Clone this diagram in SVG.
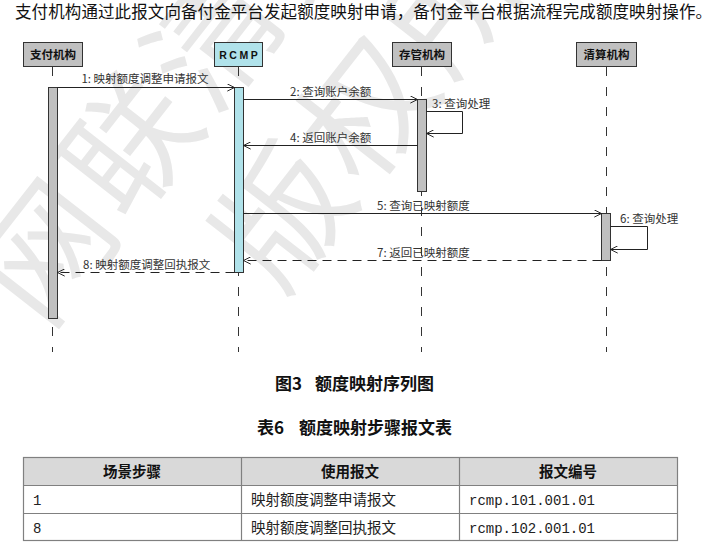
<svg xmlns="http://www.w3.org/2000/svg" width="723" height="550" viewBox="0 0 723 550">
  <style>
    .cjk { font-family: "Noto Sans CJK SC", "Liberation Sans", sans-serif; }
    .wm { font-family: "Noto Sans CJK SC", sans-serif; font-size: 130px; font-weight: 400; fill: #e8e8e8; letter-spacing: 6px; }
    .head { fill: #c0c0c0; stroke: #333; stroke-width: 1; }
    .head-cyan { fill: #b0e2ea; stroke: #333; stroke-width: 1; }
    .head-text { font-family: "Noto Sans CJK SC", sans-serif; font-size: 11.5px; font-weight: 700; fill: #111; text-anchor: middle; }
    .rcmp-text { font-family: "Liberation Sans", Arial, sans-serif; font-size: 10.5px; font-weight: 700; fill: #111; text-anchor: middle; letter-spacing: 2.6px; }
    .life { stroke: #333; stroke-width: 1; stroke-dasharray: 9 11; fill: none; }
    .act { fill: #c0c0c0; stroke: #333; stroke-width: 1; }
    .act-cyan { fill: #b0e2ea; stroke: #333; stroke-width: 1; }
    .msg { stroke: #222; stroke-width: 1; fill: none; marker-end: url(#open); }
    .ret { stroke: #222; stroke-width: 1; fill: none; stroke-dasharray: 9 6; marker-end: url(#open); }
    .lbl { font-family: "Noto Sans CJK SC", "Liberation Sans", sans-serif; font-size: 11.5px; fill: #333; }
    .cap { font-family: "Noto Sans CJK SC", sans-serif; font-size: 17px; font-weight: 700; fill: #111; }
    .grid { stroke: #808080; stroke-width: 1.2; fill: none; }
    .th { font-family: "Noto Sans CJK SC", sans-serif; font-size: 14.5px; font-weight: 700; fill: #111; text-anchor: middle; }
    .td { font-family: "Noto Sans CJK SC", sans-serif; font-size: 14.5px; fill: #222; }
    .mono { font-family: "Liberation Mono", "Courier New", monospace; font-size: 14px; fill: #222; }
  </style>
  <defs>
    <marker id="open" viewBox="0 0 10 10" refX="9" refY="5" markerWidth="8" markerHeight="8" markerUnits="userSpaceOnUse" orient="auto">
      <path d="M0,0.5 L9,5 L0,9.5" fill="none" stroke="#222" stroke-width="1.2"/>
    </marker>
  </defs>

  <rect width="723" height="550" fill="#ffffff"/>

  <!-- background watermark -->
  <g id="watermark">
    <text class="wm" transform="translate(44,332) rotate(-52)">网联清算</text>
    <text class="wm" transform="translate(281,297) rotate(-52)">版权所有</text>
  </g>

  <!-- intro sentence -->
  <text class="cjk" x="15" y="18" font-size="16.5" fill="#111" textLength="697" lengthAdjust="spacing">支付机构通过此报文向备付金平台发起额度映射申请，备付金平台根据流程完成额度映射操作。</text>

  <!-- lifelines -->
  <g id="lifelines">
    <line class="life" x1="52.5" y1="67" x2="52.5" y2="352"/>
    <line class="life" x1="238.5" y1="67" x2="238.5" y2="352"/>
    <line class="life" x1="421.5" y1="67" x2="421.5" y2="352"/>
    <line class="life" x1="606.5" y1="67" x2="606.5" y2="352"/>
  </g>

  <!-- participants -->
  <g id="p-payer">
    <rect class="head" x="23.5" y="42.5" width="59" height="24"/>
    <text class="head-text" x="53" y="59">支付机构</text>
    <rect class="act" x="48.5" y="87.5" width="9" height="231"/>
  </g>
  <g id="p-rcmp">
    <rect class="head-cyan" x="214.5" y="42.5" width="48" height="24"/>
    <text class="rcmp-text" x="239.8" y="58.5">RCMP</text>
    <rect class="act-cyan" x="234.5" y="87.5" width="9" height="185"/>
  </g>
  <g id="p-custodian">
    <rect class="head" x="392.5" y="42.5" width="59" height="24"/>
    <text class="head-text" x="422" y="59">存管机构</text>
    <rect class="act" x="417.5" y="99.5" width="9" height="92"/>
  </g>
  <g id="p-clearing">
    <rect class="head" x="576.5" y="42.5" width="60" height="24"/>
    <text class="head-text" x="606.5" y="59">清算机构</text>
    <rect class="act" x="601.5" y="213.5" width="9" height="47"/>
  </g>

  <!-- messages -->
  <g id="connectors">
    <line class="msg" x1="57.5" y1="87.5" x2="234.5" y2="87.5"/>
    <line class="msg" x1="243.5" y1="99.5" x2="417.5" y2="99.5"/>
    <polyline class="msg" points="426.5,111.5 462.5,111.5 462.5,133.5 426.5,133.5"/>
    <line class="msg" x1="417.5" y1="145.5" x2="243.5" y2="145.5"/>
    <line class="msg" x1="243.5" y1="213.5" x2="601.5" y2="213.5"/>
    <polyline class="msg" points="610.5,226.5 647.5,226.5 647.5,249.5 610.5,249.5"/>
    <line class="ret" x1="601.5" y1="260.5" x2="243.5" y2="260.5"/>
    <line class="ret" x1="234.5" y1="272.5" x2="57.5" y2="272.5"/>
  </g>

  <!-- message labels -->
  <g id="labels">
    <text class="lbl" x="145" y="83" text-anchor="middle">1: 映射额度调整申请报文</text>
    <text class="lbl" x="290" y="96">2: 查询账户余额</text>
    <text class="lbl" x="432" y="108">3: 查询处理</text>
    <text class="lbl" x="290" y="142">4: 返回账户余额</text>
    <text class="lbl" x="377" y="210">5: 查询已映射额度</text>
    <text class="lbl" x="620" y="223">6: 查询处理</text>
    <text class="lbl" x="377" y="257">7: 返回已映射额度</text>
    <text class="lbl" x="83" y="269">8: 映射额度调整回执报文</text>
  </g>

  <!-- captions -->
  <text class="cap" y="390"><tspan x="275">图3</tspan><tspan x="315">额度映射序列图</tspan></text>
  <text class="cap" y="434"><tspan x="257">表6</tspan><tspan x="299">额度映射步骤报文表</tspan></text>

  <!-- message table -->
  <g id="table">
    <rect x="23.5" y="457.5" width="654" height="28" fill="#d9d9d9"/>
    <rect class="grid" x="23.5" y="457.5" width="654" height="83"/>
    <line class="grid" x1="23.5" y1="485.5" x2="677.5" y2="485.5"/>
    <line class="grid" x1="23.5" y1="513.5" x2="677.5" y2="513.5"/>
    <line class="grid" x1="241.5" y1="457.5" x2="241.5" y2="540.5"/>
    <line class="grid" x1="459.5" y1="457.5" x2="459.5" y2="540.5"/>
    <text class="th" x="132" y="477">场景步骤</text>
    <text class="th" x="350" y="477">使用报文</text>
    <text class="th" x="568" y="477">报文编号</text>
    <text class="mono" x="33" y="505">1</text>
    <text class="td" x="251" y="505">映射额度调整申请报文</text>
    <text class="mono" x="469" y="505">rcmp.101.001.01</text>
    <text class="mono" x="33" y="533">8</text>
    <text class="td" x="251" y="533">映射额度调整回执报文</text>
    <text class="mono" x="469" y="533">rcmp.102.001.01</text>
  </g>
</svg>
